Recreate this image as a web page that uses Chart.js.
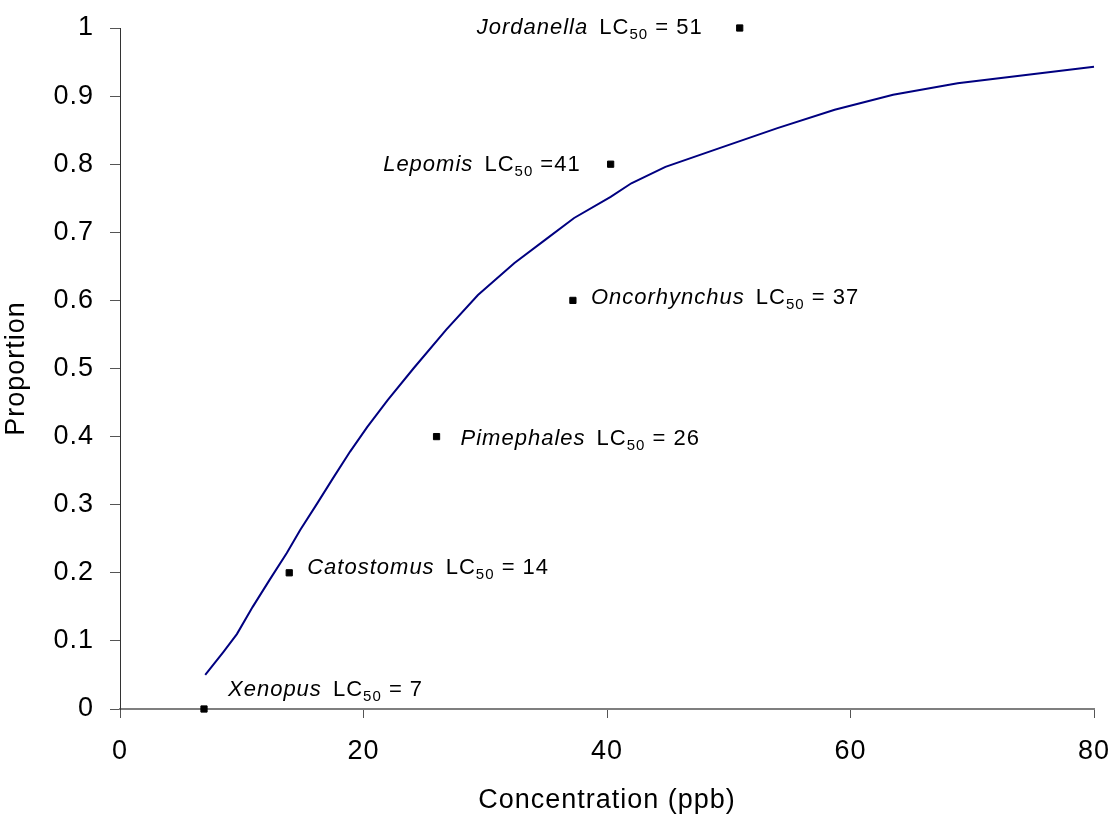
<!DOCTYPE html>
<html>
<head>
<meta charset="utf-8">
<script src="https://cdn.jsdelivr.net/npm/chart.js@4.4.1/dist/chart.umd.min.js"></script>
<style>
  html, body { margin: 0; padding: 0; background: #fff; }
  #wrap { width: 1112px; height: 820px; position: relative; }
</style>
</head>
<body>
<div id="wrap"><canvas id="c" width="1112" height="820"></canvas></div>
<script>
// Fitted curve (concentration ppb, proportion)
const curveX = [7, 8.5, 9.6, 10.9, 12.3, 13.7, 14.8, 16.2, 17.5, 18.9, 20.3, 22, 24.1, 26.8, 29.4, 32.4, 35, 37.3, 40.3, 42, 44.8, 49.3, 54, 58.7, 63.5, 68.8, 80];
const curveY = [0.05, 0.084, 0.11, 0.15, 0.19, 0.229, 0.263, 0.302, 0.339, 0.378, 0.414, 0.454, 0.5, 0.557, 0.608, 0.655, 0.69, 0.721, 0.752, 0.772, 0.796, 0.824, 0.853, 0.88, 0.902, 0.919, 0.943];

// Species LC50 points
const species = ['Xenopus', 'Catostomus', 'Pimephales', 'Oncorhynchus', 'Lepomis', 'Jordanella'];
const speciesX = [6.9, 13.9, 26, 37.2, 40.3, 50.9];
const speciesY = [0, 0.2, 0.4, 0.6, 0.8, 1.0];
const lcText = [' = 7', ' = 14', ' = 26', ' = 37', ' =41', ' = 51'];

// Tick labels
const xTicks = [0, 20, 40, 60, 80];
const yTicks = [0, 0.1, 0.2, 0.3, 0.4, 0.5, 0.6, 0.7, 0.8, 0.9, 1];

// Label placement styles (pixel offsets from the marker)
const labelStyle = [
  { side: 'right', dx: 24, dy: -13 },
  { side: 'right', dx: 18, dy: 1 },
  { side: 'right', dx: 24, dy: 8 },
  { side: 'right', dx: 18, dy: 4 },
  { side: 'left',  dx: 30, dy: 7 },
  { side: 'left',  dx: 37, dy: 6 }
];

const FONT = 'Liberation Sans, Arial, sans-serif';

const labelPlugin = {
  id: 'lcLabels',
  beforeDraw(chart) {
    chart.ctx.letterSpacing = '1px';
  },
  afterDatasetsDraw(chart) {
    const ctx = chart.ctx;
    const xs = chart.scales.x, ys = chart.scales.y;
    ctx.save();
    ctx.fillStyle = '#000';
    ctx.textBaseline = 'alphabetic';
    ctx.letterSpacing = '1px';
    species.forEach((name, i) => {
      const px = xs.getPixelForValue(speciesX[i]);
      const py = ys.getPixelForValue(speciesY[i]);
      const st = labelStyle[i];
      const parts = [
        { t: name, f: 'italic 22px ' + FONT, dy: 0, gap: 0 },
        { t: ' LC', f: '22px ' + FONT, dy: 0, gap: 4 },
        { t: '50', f: '15px ' + FONT, dy: 5, gap: 0 },
        { t: lcText[i], f: '22px ' + FONT, dy: 0, gap: 0 }
      ];
      let total = 0;
      parts.forEach(p => { ctx.font = p.f; p.w = ctx.measureText(p.t).width; total += p.w + p.gap; });
      let x = st.side === 'right' ? px + st.dx : px - st.dx - total;
      const base = py + st.dy;
      ctx.textAlign = 'left';
      parts.forEach(p => {
        ctx.font = p.f;
        x += p.gap;
        ctx.fillText(p.t, x, base + p.dy);
        x += p.w;
      });
    });
    ctx.restore();
  }
};

const ctx = document.getElementById('c').getContext('2d');
new Chart(ctx, {
  type: 'scatter',
  data: {
    datasets: [
      {
        type: 'line',
        data: curveX.map((x, i) => ({ x, y: curveY[i] })),
        borderColor: '#000080',
        borderWidth: 2,
        pointRadius: 0,
        tension: 0,
        fill: false,
        clip: false
      },
      {
        type: 'scatter',
        data: speciesX.map((x, i) => ({ x, y: speciesY[i] })),
        pointStyle: 'rect',
        pointRadius: 4.4,
        backgroundColor: '#000',
        borderColor: '#000',
        borderWidth: 1,
        clip: false
      }
    ]
  },
  options: {
    responsive: false,
    animation: false,
    layout: { padding: { top: 28, right: 18, left: 0, bottom: 0 } },
    plugins: { legend: { display: false }, tooltip: { enabled: false } },
    scales: {
      x: {
        type: 'linear',
        min: 0, max: 80,
        afterBuildTicks: s => { s.ticks = xTicks.map(v => ({ value: v })); },
        afterFit: s => { s.height = 111; s.paddingLeft = 0; s.paddingRight = 0; },
        ticks: {
          color: '#000',
          font: { family: FONT, size: 27 },
          padding: 17,
          maxRotation: 0
        },
        grid: { drawOnChartArea: false, drawTicks: true, tickLength: 9, color: '#555', lineWidth: 1 },
        border: { display: true, color: '#7f7f7f', width: 2 },
        title: {
          display: true,
          text: 'Concentration (ppb)',
          color: '#000',
          font: { family: FONT, size: 27 },
          padding: { top: 0, bottom: 3 }
        }
      },
      y: {
        type: 'linear',
        min: 0, max: 1,
        afterBuildTicks: s => { s.ticks = yTicks.map(v => ({ value: v })); },
        afterFit: s => { s.width = 120; s.paddingTop = 0; s.paddingBottom = 0; },
        ticks: {
          color: '#000',
          font: { family: FONT, size: 27 },
          padding: 16,
          callback: v => String(Number(v.toFixed(1)))
        },
        grid: { drawOnChartArea: false, drawTicks: true, tickLength: 10, color: '#555', lineWidth: 1 },
        border: { display: true, color: '#333', width: 1 },
        title: {
          display: true,
          text: 'Proportion',
          color: '#000',
          font: { family: FONT, size: 27 },
          padding: { top: 0, bottom: 0 }
        }
      }
    }
  },
  plugins: [labelPlugin]
});
</script>
</body>
</html>
